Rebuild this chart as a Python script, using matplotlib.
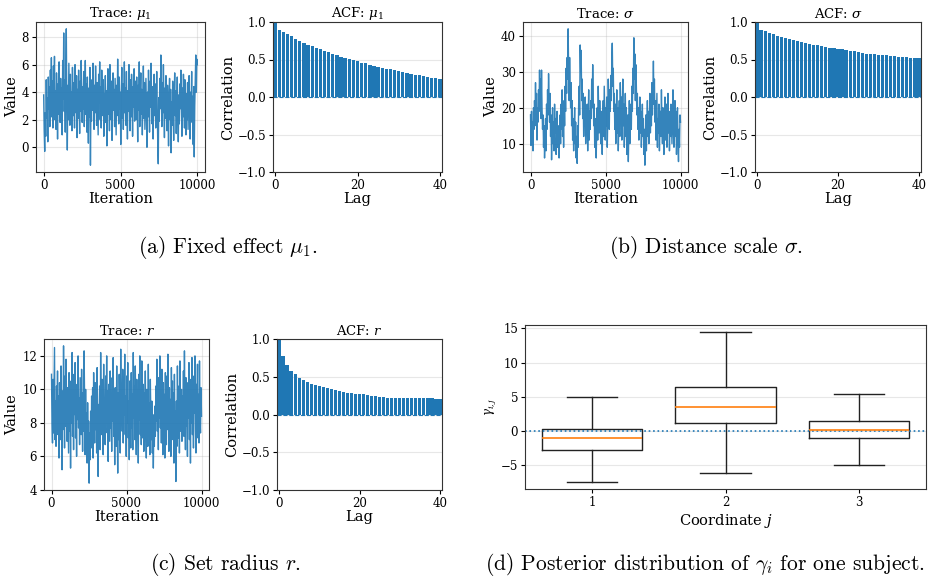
import numpy as np
import matplotlib
matplotlib.use('Agg')
import matplotlib.pyplot as plt

plt.rcParams['font.family'] = 'DejaVu Serif'
plt.rcParams['mathtext.fontset'] = 'dejavuserif'

# trace values (thinned)
trace_mu1 = [
    3.8, 1.2, -0.3, 2.5, 0.8, 4.9, 2.1, 3.6, 0.4, 5.1, 2.8, 4.4, 1.5, 5.6, 3.0, 6.5, 2.2, 4.8, 1.4, 5.9,
    3.3, 6.6, 2.0, 4.1, 1.3, 5.4, 3.7, 0.6, 4.6, 2.4, 6.2, 3.1, 1.8, 5.0, 2.7, 4.3, 0.9, 6.3, 3.5, 8.3,
    2.6, 4.9, 1.1, 5.7, 8.6, 3.2, -0.2, 4.5, 2.0, 6.1, 3.6, 1.6, 5.3, 2.9, 4.0, 1.2, 5.8, 3.4, 2.3, 4.7,
    1.4, 6.0, 3.8, 2.5, 5.2, 0.7, 4.2, 2.1, 5.6, 3.3, 1.0, 4.8, 2.6, 6.3, 3.9, 1.8, 4.4, 2.8, 5.5, 1.5,
    3.7, 6.3, 2.4, 4.6, 1.1, 5.1, 3.0, 0.3, 4.3, 2.2, 5.8, -1.3, 3.4, 1.9, 4.9, 2.7, 6.1, 3.5, 1.3, 4.5,
    2.5, 5.9, 3.8, 1.6, 4.7, 2.9, 0.9, 5.3, 3.2, 6.2, 2.0, 4.4, 1.4, 5.6, 3.6, 2.3, 4.9, 0.8, 3.9, 2.6,
    5.2, 1.8, 4.1, 0.1, 3.3, 5.7, 2.4, 4.6, 1.2, 6.0, 3.5, 2.0, 4.8, 0.5, 3.8, 5.4, 2.7, 4.2, 1.5, 5.0,
    3.1, 0.9, 4.5, 2.3, 6.4, 3.6, 1.7, 5.1, 2.8, 4.0, 0.2, 3.7, 5.8, 2.1, 4.6, 1.3, 3.4, 6.2, 2.5, 4.3,
    1.6, 5.5, 3.0, 0.6, 4.1, 2.6, 6.0, 3.4, 1.2, 4.9, 2.2, 5.3, 3.8, 0.8, 4.4, 2.9, 5.7, 1.9, 3.6, 4.8,
    2.0, 5.1, 3.3, 0.4, 4.5, 2.7, 6.2, 1.5, 3.9, 5.4, 2.4, 4.2, 0.9, 3.6, 5.9, 2.1, 4.7, 1.3, 3.2, 5.0,
    2.6, 0.0, 4.0, 2.2, 5.6, 3.5, 1.1, 4.8, 2.9, 6.1, 3.3, 1.7, 4.4, 0.6, 3.8, 5.3, 2.3, 4.6, 1.4, 3.1,
    5.5, 2.7, 0.3, -1.2, 3.6, 1.9, 5.0, 2.8, 6.7, 3.9, 1.5, 4.7, 2.5, 6.0, 3.2, 0.7, 4.3, 2.1, 5.2, 3.0,
    1.2, 4.5, 2.6, 0.1, 3.7, 5.0, 2.0, 4.2, -0.4, 3.3, 1.6, 4.8, 2.9, 0.5, 3.9, 5.4, 2.3, 4.1, 1.0, 3.5,
    5.1, 2.4, 0.4, 3.8, 1.7, 4.6, 2.8, 5.6, 3.1, 0.8, 4.3, 2.2, 5.3, 3.6, 1.4, 4.9, 2.6, 0.9, 3.9, 2.0,
    4.7, 1.3, 3.4, 5.2, 2.5, 0.6, 4.0, 2.9, 5.5, 1.8, 3.7, 0.2, 4.4, -0.7, 3.0, 5.0, 6.7, 4.0, 6.4, 6.0,
]

trace_sigma = [
    18, 9.5, 19, 13, 16, 8, 20, 14, 22, 17, 27, 15, 24, 11, 20, 16, 25, 19, 30.5, 21,
    28, 17, 30.5, 20, 14, 18, 9, 15, 6, 12, 17, 8, 21, 14, 25, 18, 29.5, 22, 16, 24,
    12, 18, 5.5, 14, 20, 10, 16, 8, 21, 13, 17, 7, 12, 19, 9, 15, 11, 6, 13, 18,
    10, 21, 14, 25, 12, 18, 9, 22, 15, 26, 19, 31, 24, 34, 28, 42, 30, 22, 34, 26,
    20, 27, 15, 22, 11, 17, 8, 14, 20, 10, 16, 6, 12, 4.5, 15, 9, 21, 26, 18, 37.5,
    30, 36, 22, 28, 17, 24, 12, 20, 15, 23, 10, 18, 13, 21, 8, 16, 25, 11, 19, 14,
    22, 17, 28, 20, 32, 24, 15, 21, 9, 17, 12, 6, 15, 20, 11, 26, 18, 13, 22, 16,
    10, 19, 14, 7, 17, 22, 12, 26, 18, 11, 20, 15, 23, 9, 17, 28, 21, 14, 25, 19,
    29, 22, 33, 38, 26, 31, 19, 24, 14, 21, 10, 18, 25, 13, 20, 8, 16, 22, 12, 27,
    17, 23, 11, 19, 28, 15, 21, 9, 16, 24, 12, 20, 7, 14, 18, 5, 13, 22, 10, 17,
    21, 14, 26, 19, 31, 24, 39.5, 28, 35, 22, 32, 26, 18, 24, 14, 20, 11, 17, 23, 13,
    19, 9, 15, 21, 12, 17, 7, 14, 4, 11, 18, 8, 15, 22, 12, 19, 10, 16, 24, 13,
    20, 15, 27, 18, 23, 33, 21, 28, 16, 22, 11, 18, 24, 9, 17, 13, 21, 8, 15, 19,
    12, 25, 16, 10, 20, 14, 7, 18, 23, 11, 16, 21, 9, 15, 24, 13, 19, 8, 17, 12,
    21, 15, 10, 18, 25, 13, 9, 17, 22, 12, 19, 7, 15, 20, 11, 5, 14, 9, 18, 16,
]

trace_r = [
    10.9, 8.0, 6.8, 10.6, 7.4, 9.8, 12.5, 7.0, 9.3, 6.6, 10.2, 8.4, 11.1, 7.3, 9.6, 5.9, 10.4, 8.1, 7.0, 11.4,
    8.6, 5.2, 9.9, 7.6, 12.6, 8.9, 6.5, 10.8, 7.8, 11.8, 9.2, 6.9, 10.1, 8.3, 6.2, 11.0, 7.5, 9.7, 5.3, 10.5,
    8.0, 12.2, 7.2, 9.4, 6.4, 10.9, 8.5, 11.6, 7.1, 9.0, 6.0, 10.3, 8.2, 12.0, 7.7, 9.5, 6.7, 10.7, 8.8, 7.3,
    11.2, 8.4, 6.3, 9.8, 7.5, 12.3, 8.9, 6.1, 10.0, 7.0, 8.6, 5.6, 9.2, 6.6, 8.1, 4.4, 7.4, 5.8, 8.7, 6.5,
    9.6, 7.2, 10.1, 5.9, 11.0, 8.3, 6.8, 10.4, 7.6, 9.7, 6.2, 11.3, 8.0, 4.8, 9.1, 7.1, 10.2, 6.4, 12.2, 8.5,
    7.3, 10.6, 8.8, 6.1, 11.5, 7.8, 9.5, 6.7, 10.8, 8.2, 12.0, 7.4, 9.9, 5.7, 10.3, 8.6, 6.9, 11.1, 7.7, 9.4,
    6.3, 10.7, 8.1, 11.9, 7.2, 9.6, 5.5, 10.1, 8.4, 6.6, 11.4, 7.9, 5.0, 9.8, 7.0, 10.9, 8.7, 6.2, 12.4, 8.2,
    9.9, 7.5, 11.2, 6.8, 10.4, 8.5, 12.1, 7.3, 9.6, 6.0, 10.8, 8.0, 11.6, 7.1, 9.3, 5.8, 10.5, 8.9, 6.5, 11.0,
    7.7, 9.7, 6.4, 12.2, 8.3, 10.2, 7.0, 11.4, 8.8, 6.1, 10.6, 7.6, 9.1, 5.6, 10.9, 8.2, 12.0, 7.3, 9.5, 6.7,
    11.7, 8.6, 7.1, 10.3, 6.3, 9.8, 8.0, 11.1, 7.4, 5.9, 10.0, 8.7, 6.6, 11.5, 7.8, 9.2, 6.1, 10.6, 8.4, 7.0,
    9.3, 6.2, 8.5, 5.3, 7.9, 6.6, 9.0, 7.2, 10.2, 8.1, 11.8, 7.5, 9.6, 6.4, 10.7, 8.3, 12.0, 7.7, 9.9, 6.8,
    11.2, 8.6, 6.1, 10.4, 7.3, 9.7, 5.9, 11.0, 8.0, 6.7, 10.8, 7.6, 12.1, 8.9, 6.3, 10.1, 7.8, 9.4, 6.0, 11.3,
    8.2, 10.5, 7.0, 9.8, 5.6, 10.9, 7.4, 8.7, 4.5, 9.3, 6.6, 11.4, 8.4, 7.1, 10.2, 6.2, 11.7, 8.8, 7.5, 10.0,
    6.9, 9.6, 8.1, 11.1, 7.2, 12.3, 8.5, 6.4, 10.7, 7.8, 9.2, 6.0, 10.4, 8.3, 11.6, 7.0, 9.9, 5.6, 10.6, 8.0,
    11.9, 7.3, 9.4, 6.5, 10.8, 8.6, 12.0, 7.6, 6.2, 10.3, 8.9, 11.5, 7.1, 9.7, 6.8, 11.7, 8.2, 7.4, 10.1, 8.4,
]

# autocorrelation, lags 0..40
acf_mu1 = [1.0, 0.90, 0.87, 0.84, 0.81, 0.77, 0.75, 0.72, 0.70, 0.68, 0.66,
           0.64, 0.62, 0.60, 0.57, 0.56, 0.54, 0.52, 0.51, 0.49, 0.48,
           0.46, 0.45, 0.43, 0.42, 0.40, 0.39, 0.38, 0.37, 0.36, 0.35,
           0.33, 0.32, 0.31, 0.30, 0.29, 0.28, 0.27, 0.26, 0.25, 0.24]
acf_sigma = [1.0, 0.90, 0.875, 0.85, 0.835, 0.815, 0.80, 0.79, 0.775, 0.765, 0.75,
             0.74, 0.725, 0.71, 0.70, 0.69, 0.68, 0.67, 0.66, 0.655, 0.645,
             0.635, 0.63, 0.62, 0.61, 0.60, 0.59, 0.58, 0.58, 0.57, 0.565,
             0.56, 0.555, 0.55, 0.545, 0.54, 0.535, 0.53, 0.525, 0.52, 0.515]
acf_r = [1.0, 0.78, 0.65, 0.57, 0.53, 0.49, 0.46, 0.43, 0.40, 0.39, 0.38,
         0.37, 0.35, 0.34, 0.32, 0.31, 0.30, 0.29, 0.285, 0.275, 0.27,
         0.265, 0.26, 0.25, 0.245, 0.235, 0.23, 0.225, 0.22, 0.22, 0.22,
         0.22, 0.225, 0.225, 0.22, 0.22, 0.22, 0.22, 0.215, 0.21, 0.205]

# box plot summaries for gamma_{i,j}
coords = [1, 2, 3]
box_whislo = [-7.5, -6.2, -5.05]
box_q1 = [-2.85, 1.1, -1.1]
box_med = [-1.0, 3.5, 0.1]
box_q3 = [0.3, 6.4, 1.5]
box_whishi = [4.95, 14.5, 5.45]

W, H = 933, 583
fig = plt.figure(figsize=(W / 100, H / 100), dpi=100)


def px_axes(l, t, r, b):
    return fig.add_axes([l / W, 1 - b / H, (r - l) / W, (b - t) / H])


def style(ax):
    ax.tick_params(labelsize=8.5, length=3, pad=2)
    for sp in ax.spines.values():
        sp.set_color('#333333')


def trace_panel(ax, vals, name):
    it = np.linspace(0, 10000, len(vals))
    ax.plot(it, vals, color='C0', lw=1.0, alpha=0.9)
    ax.set_xticks([0, 5000, 10000])
    ax.set_title('Trace: ' + name, fontsize=9.5, pad=3)
    ax.set_xlabel('Iteration', fontsize=10.5, labelpad=0)
    ax.set_ylabel('Value', fontsize=10.5, labelpad=2)
    style(ax)
    ax.grid(alpha=0.3)


def acf_panel(ax, vals, name):
    lags = np.arange(len(vals))
    ax.bar(lags, vals, width=0.8, color='C0')
    ax.axhline(0, color='C0', ls='--', lw=0.8)
    ax.set_xlim(-0.5, 40.5)
    ax.set_ylim(-1, 1)
    ax.set_xticks([0, 20, 40])
    ax.set_yticks([-1, -0.5, 0, 0.5, 1.0])
    ax.set_title('ACF: ' + name, fontsize=9.5, pad=3)
    ax.set_xlabel('Lag', fontsize=10.5, labelpad=0)
    ax.set_ylabel('Correlation', fontsize=10.5, labelpad=2)
    style(ax)
    ax.grid(axis='y', alpha=0.3)
    ax.set_axisbelow(True)


trace_panel(px_axes(36, 22, 205, 172), trace_mu1, r'$\mu_1$')
acf_panel(px_axes(273, 22, 442, 172), acf_mu1, r'$\mu_1$')
trace_panel(px_axes(523, 22, 688, 172), trace_sigma, r'$\sigma$')
acf_panel(px_axes(755, 22, 921, 172), acf_sigma, r'$\sigma$')
trace_panel(px_axes(44, 339, 209, 490), trace_r, r'$r$')
acf_panel(px_axes(277, 339, 442, 490), acf_r, r'$r$')

# (d) posterior of gamma_i
ax = px_axes(525, 325, 926, 489)
stats = []
for i in range(len(coords)):
    stats.append({'whislo': box_whislo[i], 'q1': box_q1[i], 'med': box_med[i],
                  'q3': box_q3[i], 'whishi': box_whishi[i], 'fliers': []})
ax.bxp(stats, positions=coords, widths=0.75, showfliers=False,
       medianprops={'color': 'C1', 'lw': 1.2},
       boxprops={'lw': 1, 'color': '#222222'},
       whiskerprops={'lw': 1, 'color': '#222222'},
       capprops={'lw': 1, 'color': '#222222'})
ax.axhline(0, color='C0', ls=':', lw=1.2)
ax.set_xlim(0.5, 3.5)
ax.set_ylim(-8.5, 15.5)
ax.set_yticks([-5, 0, 5, 10, 15])
ax.set_xlabel('Coordinate $j$', fontsize=10.5, labelpad=2)
ax.set_ylabel(r'$\gamma_{i,j}$', fontsize=8.5, labelpad=2)
style(ax)
ax.grid(axis='y', alpha=0.3)
ax.set_axisbelow(True)

caps = [(0.244, 0.575, r'(a) Fixed effect $\mu_1$.'),
        (0.757, 0.575, r'(b) Distance scale $\sigma$.'),
        (0.242, 0.031, r'(c) Set radius $r$.'),
        (0.756, 0.031, r'(d) Posterior distribution of $\gamma_i$ for one subject.')]
for x, y, s in caps:
    fig.text(x, y, s, ha='center', va='center', fontsize=15.5,
             family='cmr10', math_fontfamily='cm')

fig.savefig('out.png', dpi=100)
